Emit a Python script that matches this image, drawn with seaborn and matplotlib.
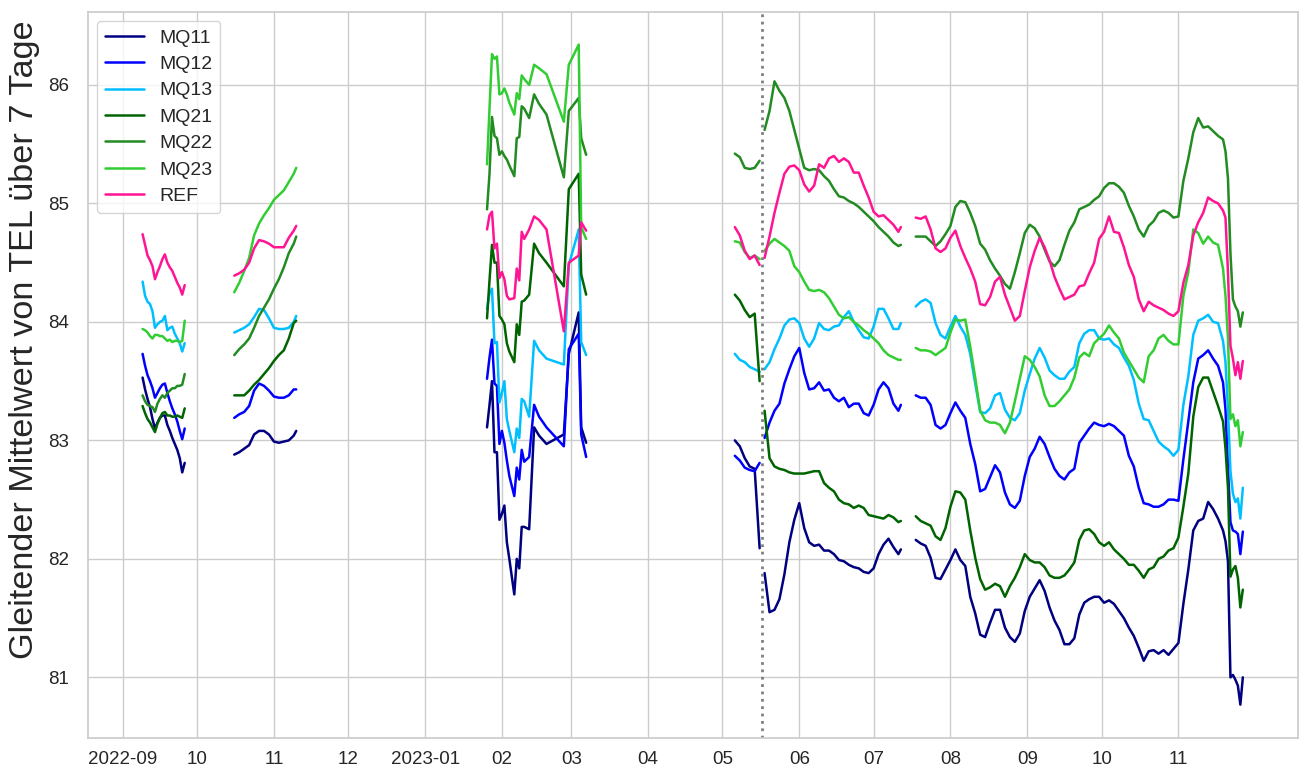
import numpy as np
import pandas as pd
import matplotlib
matplotlib.use("Agg")
import matplotlib.pyplot as plt
import seaborn as sns

# ============================================
# DATA (7-day rolling mean of TEL per sensor)
# ============================================

dates_sep22 = pd.date_range("2022-09-09", "2022-09-26", freq="D")
dates_oct22 = pd.date_range("2022-10-16", "2022-11-09", freq="2D").append(
    pd.DatetimeIndex(["2022-11-10"]))
dates_feb23 = pd.to_datetime([
    "2023-01-26", "2023-01-27", "2023-01-28", "2023-01-29", "2023-01-30",
    "2023-01-31", "2023-02-01", "2023-02-02", "2023-02-03", "2023-02-04",
    "2023-02-06", "2023-02-07", "2023-02-08", "2023-02-09", "2023-02-10",
    "2023-02-12", "2023-02-14", "2023-02-16", "2023-02-19", "2023-02-26",
    "2023-02-28", "2023-03-04", "2023-03-05", "2023-03-07"])
dates_may23 = pd.date_range("2023-05-06", "2023-05-16", freq="2D")
dates_jun23 = pd.date_range("2023-05-18", "2023-07-11", freq="2D").append(
    pd.DatetimeIndex(["2023-07-12"]))
dates_sep23 = pd.date_range("2023-07-18", "2023-11-19", freq="2D").append(
    pd.date_range("2023-11-20", "2023-11-27", freq="D"))

marker_date = "2023-05-17"

series_names = ["MQ11", "MQ12", "MQ13", "MQ21", "MQ22", "MQ23", "REF"]
series_colors = ["navy", "blue", "deepskyblue", "darkgreen",
                 "forestgreen", "limegreen", "deeppink"]

tick_dates = pd.date_range("2022-09-01", "2023-11-01", freq="MS")
tick_labels = ["2022-09", "10", "11", "12", "2023-01", "02", "03", "04",
               "05", "06", "07", "08", "09", "10", "11"]

mq11 = [
    # Sep 2022
    83.53, 83.43, 83.35, 83.28, 83.18, 83.10, 83.15, 83.19, 83.21, 83.21,
    83.13, 83.08, 83.02, 82.97, 82.92, 82.85, 82.73, 82.81,
    # Oct/Nov 2022
    82.88, 82.90, 82.93, 82.96, 83.05, 83.08, 83.08, 83.05, 82.99, 82.98,
    82.99, 83.00, 83.04, 83.08,
    # Jan-Mar 2023
    83.11, 83.30, 83.50, 82.90, 82.90, 82.33, 82.38, 82.45, 82.14, 82.00,
    81.70, 82.00, 81.92, 82.27, 82.27, 82.25, 83.11, 83.04, 82.97, 83.05,
    83.73, 84.08, 83.11, 82.98,
    # May 2023 (before marker)
    83.00, 82.95, 82.85, 82.78, 82.76, 82.09,
    # May-Jul 2023
    81.88, 81.55, 81.57, 81.66, 81.87, 82.14, 82.33, 82.47, 82.26, 82.14,
    82.11, 82.12, 82.07, 82.07, 82.04, 81.99, 81.98, 81.95, 81.93, 81.92,
    81.89, 81.88, 81.92, 82.04, 82.12, 82.17, 82.10, 82.04, 82.08,
    # Jul-Nov 2023
    82.16, 82.13, 82.11, 82.01, 81.84, 81.83, 81.91,
    81.99, 82.08, 81.99, 81.94, 81.68, 81.54, 81.36, 81.34, 81.46, 81.57,
    81.57, 81.42, 81.34, 81.30, 81.37, 81.56,
    81.68, 81.75, 81.82, 81.73, 81.59, 81.48, 81.40, 81.28, 81.28, 81.33,
    81.53, 81.63, 81.66, 81.68, 81.68,
    81.63, 81.65, 81.62, 81.56, 81.50, 81.42, 81.35, 81.25, 81.14, 81.22,
    81.23, 81.20, 81.23, 81.19, 81.24,
    81.29, 81.62, 81.91, 82.24, 82.32, 82.34, 82.48, 82.42, 82.34, 82.24,
    82.15, 81.98, 81.00, 81.02, 80.98, 80.93, 80.77, 81.00,
]

mq12 = [
    83.73, 83.63, 83.55, 83.50, 83.44, 83.36, 83.40, 83.44, 83.47, 83.48,
    83.40, 83.33, 83.27, 83.22, 83.16, 83.08, 83.01, 83.10,
    83.19, 83.22, 83.24, 83.29, 83.42, 83.48, 83.46, 83.42, 83.37, 83.36,
    83.36, 83.38, 83.43, 83.43,
    83.52, 83.70, 83.85, 83.48, 83.46, 82.97, 83.08, 82.98, 82.83, 82.70,
    82.53, 82.77, 82.67, 82.92, 82.82, 82.86, 83.30, 83.20, 83.11, 82.95,
    83.77, 83.90, 83.05, 82.86,
    82.87, 82.83, 82.77, 82.75, 82.74, 82.81,
    83.02, 83.15, 83.25, 83.31, 83.48, 83.60, 83.71, 83.78, 83.57, 83.43,
    83.44, 83.49, 83.42, 83.43, 83.36, 83.33, 83.36, 83.28, 83.31, 83.31,
    83.23, 83.21, 83.30, 83.43, 83.49, 83.44, 83.31, 83.25, 83.30,
    83.38, 83.36, 83.36, 83.30, 83.13, 83.10, 83.13,
    83.23, 83.32, 83.25, 83.19, 82.97, 82.80, 82.57, 82.59, 82.69, 82.79,
    82.73, 82.56, 82.46, 82.43, 82.49, 82.70,
    82.86, 82.93, 83.03, 82.97, 82.86, 82.76, 82.70, 82.67, 82.73, 82.76,
    82.98, 83.04, 83.10, 83.15, 83.13,
    83.12, 83.14, 83.12, 83.08, 83.04, 82.87, 82.78, 82.60, 82.47, 82.46,
    82.44, 82.44, 82.46, 82.50, 82.50,
    82.49, 82.84, 83.16, 83.49, 83.69, 83.72, 83.76, 83.69, 83.63, 83.49,
    83.26, 82.77, 82.31, 82.24, 82.23, 82.21, 82.04, 82.23,
]

mq13 = [
    84.34, 84.22, 84.17, 84.15, 84.09, 83.95, 83.98, 84.00, 84.01, 84.05,
    83.93, 83.95, 83.96, 83.90, 83.86, 83.82, 83.75, 83.82,
    83.91, 83.93, 83.95, 83.98, 84.04, 84.11, 84.10, 84.03, 83.95, 83.94,
    83.94, 83.95, 84.00, 84.05,
    84.11, 84.24, 84.28, 83.82, 83.83, 83.32, 83.40, 83.50, 83.18, 83.08,
    82.90, 83.10, 83.02, 83.35, 83.33, 83.20, 83.84, 83.76, 83.69, 83.64,
    84.48, 84.78, 83.83, 83.72,
    83.73, 83.68, 83.66, 83.62, 83.60, 83.58,
    83.60, 83.66, 83.77, 83.86, 83.97, 84.02, 84.03, 83.99, 83.86, 83.79,
    83.86, 83.99, 83.94, 83.93, 83.96, 83.97, 84.04, 84.09, 84.00, 83.93,
    83.87, 83.86, 83.96, 84.11, 84.11, 84.03, 83.94, 83.94, 83.99,
    84.13, 84.17, 84.19, 84.16, 83.99, 83.89, 83.86,
    83.96, 84.05, 83.96, 83.89, 83.73, 83.48, 83.24, 83.23, 83.27, 83.38,
    83.40, 83.26, 83.19, 83.17, 83.23, 83.42,
    83.56, 83.69, 83.78, 83.70, 83.59, 83.55, 83.52, 83.52, 83.58, 83.62,
    83.82, 83.90, 83.93, 83.93, 83.86,
    83.85, 83.86, 83.81, 83.78, 83.70, 83.63, 83.51, 83.31, 83.18, 83.17,
    83.08, 82.99, 82.95, 82.92, 82.87,
    82.92, 83.30, 83.54, 83.89, 84.01, 84.03, 84.06, 84.00, 83.99, 83.84,
    83.66, 83.26, 82.74, 82.55, 82.48, 82.51, 82.34, 82.60,
]

mq21 = [
    83.29, 83.23, 83.18, 83.15, 83.11, 83.07, 83.14, 83.19, 83.23, 83.24,
    83.21, 83.21, 83.20, 83.20, 83.21, 83.20, 83.19, 83.27,
    83.38, 83.38, 83.38, 83.42, 83.47, 83.51, 83.56, 83.61, 83.67, 83.72,
    83.76, 83.86, 83.99, 84.01,
    84.03, 84.35, 84.65, 84.50, 84.50, 84.05, 84.02, 83.98, 83.82, 83.75,
    83.66, 83.98, 83.89, 84.17, 84.18, 84.23, 84.66, 84.58, 84.50, 84.30,
    85.12, 85.25, 84.40, 84.23,
    84.23, 84.18, 84.10, 84.04, 84.07, 83.50,
    83.25, 82.85, 82.78, 82.76, 82.75, 82.73, 82.72, 82.72, 82.72, 82.73,
    82.74, 82.74, 82.64, 82.60, 82.57, 82.50, 82.47, 82.46, 82.43, 82.45,
    82.43, 82.37, 82.36, 82.35, 82.34, 82.37, 82.35, 82.31, 82.32,
    82.36, 82.32, 82.30, 82.28, 82.19, 82.16, 82.26,
    82.44, 82.57, 82.56, 82.50, 82.24, 82.01, 81.83, 81.74, 81.76, 81.79,
    81.77, 81.68, 81.77, 81.84, 81.93, 82.04,
    81.99, 81.97, 81.97, 81.93, 81.86, 81.84, 81.84, 81.86, 81.91, 81.97,
    82.16, 82.24, 82.25, 82.21, 82.14,
    82.11, 82.14, 82.08, 82.04, 82.00, 81.95, 81.95, 81.90, 81.84, 81.91,
    81.93, 82.00, 82.02, 82.07, 82.09,
    82.18, 82.44, 82.72, 83.20, 83.45, 83.53, 83.53, 83.41, 83.29, 83.16,
    82.93, 82.60, 81.85, 81.91, 81.94, 81.84, 81.59, 81.74,
]

mq22 = [
    83.38, 83.33, 83.30, 83.29, 83.28, 83.24, 83.31, 83.35, 83.38, 83.36,
    83.40, 83.42, 83.44, 83.44, 83.46, 83.46, 83.47, 83.56,
    83.72, 83.77, 83.81, 83.86, 83.95, 84.05, 84.12, 84.19, 84.28, 84.36,
    84.46, 84.58, 84.66, 84.72,
    84.95, 85.25, 85.73, 85.57, 85.55, 85.41, 85.44, 85.40, 85.37, 85.32,
    85.23, 85.55, 85.56, 85.82, 85.80, 85.72, 85.92, 85.84, 85.75, 85.22,
    85.78, 85.89, 85.55, 85.41,
    85.42, 85.39, 85.30, 85.29, 85.30, 85.36,
    85.62, 85.78, 86.03, 85.95, 85.89, 85.78, 85.62, 85.46, 85.30, 85.28,
    85.29, 85.28, 85.23, 85.19, 85.12, 85.06, 85.05, 85.02, 85.00, 84.97,
    84.93, 84.89, 84.85, 84.80, 84.76, 84.72, 84.67, 84.64, 84.65,
    84.72, 84.72, 84.72, 84.68, 84.64, 84.68, 84.74,
    84.81, 84.97, 85.02, 85.01, 84.92, 84.81, 84.66, 84.61, 84.52, 84.45,
    84.39, 84.32, 84.28, 84.42, 84.58, 84.75,
    84.82, 84.79, 84.72, 84.61, 84.51, 84.47, 84.52, 84.65, 84.77, 84.84,
    84.95, 84.97, 84.99, 85.03, 85.06,
    85.13, 85.17, 85.17, 85.14, 85.09, 84.98, 84.89, 84.78, 84.72, 84.81,
    84.85, 84.92, 84.94, 84.92, 84.88,
    84.89, 85.19, 85.38, 85.60, 85.72, 85.64, 85.65, 85.61, 85.57, 85.54,
    85.44, 85.21, 84.58, 84.19, 84.13, 84.09, 83.96, 84.08,
]

mq23 = [
    83.94, 83.93, 83.91, 83.88, 83.86, 83.89, 83.89, 83.88, 83.88, 83.86,
    83.84, 83.85, 83.83, 83.84, 83.84, 83.83, 83.84, 84.01,
    84.25, 84.33, 84.43, 84.54, 84.73, 84.83, 84.90, 84.96, 85.03, 85.07,
    85.11, 85.18, 85.25, 85.30,
    85.33, 85.80, 86.26, 86.22, 86.24, 85.92, 85.93, 85.97, 85.92, 85.85,
    85.75, 85.93, 85.88, 86.08, 86.05, 86.00, 86.17, 86.14, 86.09, 85.69,
    86.17, 86.34, 84.80, 84.70,
    84.68, 84.67, 84.59, 84.54, 84.56, 84.53,
    84.60, 84.66, 84.70, 84.67, 84.64, 84.60, 84.47, 84.42, 84.34, 84.27,
    84.26, 84.27, 84.25, 84.20, 84.13, 84.06, 84.03, 84.04, 84.00, 83.97,
    83.93, 83.90, 83.86, 83.82, 83.76, 83.72, 83.70, 83.68, 83.68,
    83.78, 83.76, 83.76, 83.75, 83.72, 83.75, 83.78,
    83.91, 84.02, 84.01, 84.02, 83.79, 83.53, 83.25, 83.17, 83.15, 83.15,
    83.13, 83.06, 83.15, 83.33, 83.52, 83.71,
    83.68, 83.62, 83.54, 83.38, 83.29, 83.29, 83.33, 83.38, 83.43, 83.53,
    83.70, 83.74, 83.71, 83.82, 83.86,
    83.90, 83.97, 83.91, 83.86, 83.74, 83.67, 83.60, 83.53, 83.49, 83.71,
    83.76, 83.86, 83.89, 83.84, 83.81,
    83.81, 84.22, 84.42, 84.78, 84.75, 84.66, 84.72, 84.67, 84.65, 84.45,
    84.22, 83.86, 83.18, 83.22, 83.12, 83.17, 82.95, 83.07,
]

ref = [
    84.74, 84.65, 84.56, 84.52, 84.47, 84.36, 84.42, 84.47, 84.53, 84.57,
    84.50, 84.46, 84.43, 84.38, 84.33, 84.29, 84.23, 84.31,
    84.39, 84.41, 84.44, 84.50, 84.62, 84.69, 84.68, 84.66, 84.63, 84.63,
    84.63, 84.71, 84.77, 84.81,
    84.78, 84.90, 84.93, 84.62, 84.66, 84.37, 84.42, 84.36, 84.22, 84.19,
    84.20, 84.45, 84.35, 84.76, 84.70, 84.78, 84.89, 84.86, 84.78, 83.92,
    84.50, 84.56, 84.84, 84.77,
    84.80, 84.73, 84.60, 84.53, 84.56, 84.48,
    84.54, 84.72, 84.92, 85.09, 85.25, 85.31, 85.32, 85.28, 85.16, 85.10,
    85.15, 85.33, 85.30, 85.38, 85.40, 85.35, 85.38, 85.35, 85.26, 85.26,
    85.15, 85.05, 84.93, 84.89, 84.90, 84.86, 84.82, 84.76, 84.80,
    84.88, 84.87, 84.89, 84.78, 84.62, 84.59, 84.62,
    84.71, 84.77, 84.64, 84.54, 84.45, 84.34, 84.15, 84.14, 84.21, 84.34,
    84.38, 84.23, 84.12, 84.01, 84.05, 84.26,
    84.46, 84.60, 84.71, 84.63, 84.52, 84.38, 84.28, 84.19, 84.21, 84.23,
    84.30, 84.31, 84.41, 84.50, 84.70,
    84.76, 84.89, 84.76, 84.75, 84.63, 84.48, 84.38, 84.19, 84.09, 84.17,
    84.14, 84.12, 84.10, 84.07, 84.05,
    84.09, 84.33, 84.48, 84.73, 84.84, 84.92, 85.05, 85.02, 85.00, 84.94,
    84.88, 84.42, 83.80, 83.69, 83.55, 83.66, 83.52, 83.67,
]

# ============================================
# LONG FORMAT
# ============================================

segments = [dates_sep22, dates_oct22, dates_feb23,
            dates_may23, dates_jun23, dates_sep23]
all_dates = np.concatenate([np.asarray(d) for d in segments])
seg_id = np.concatenate([[i] * len(d) for i, d in enumerate(segments)])

values = [mq11, mq12, mq13, mq21, mq22, mq23, ref]
frames = []
for name, vals in zip(series_names, values):
    frames.append(pd.DataFrame({
        "date": all_dates,
        "value": vals,
        "series": name,
        "segment": seg_id,
    }))
df = pd.concat(frames, ignore_index=True)

# ============================================
# PLOT
# ============================================

sns.set_theme(style="whitegrid")
plt.rcParams["font.family"] = ["Liberation Sans", "DejaVu Sans"]

fig, ax = plt.subplots(figsize=(13.07, 7.74), dpi=100)

sns.lineplot(data=df, x="date", y="value", hue="series", units="segment",
             estimator=None, hue_order=series_names,
             palette=dict(zip(series_names, series_colors)),
             linewidth=1.8, ax=ax)

ax.axvline(pd.Timestamp(marker_date), color="grey", linestyle=":", linewidth=2)

ax.set_xticks(tick_dates)
ax.set_xticklabels(tick_labels)
ax.tick_params(labelsize=13.5)
ax.tick_params(axis="y", length=0, pad=13.5)
ax.set_xlabel("")
ax.set_ylabel("Gleitender Mittelwert von TEL über 7 Tage", fontsize=24.7)
ax.yaxis.set_label_coords(-0.039, 0.548)

handles, labels = ax.get_legend_handles_labels()
ax.legend(handles, labels, loc="upper left", fontsize=14, labelspacing=0.45)

fig.subplots_adjust(left=0.067, right=0.993, top=0.985, bottom=0.047)
fig.savefig("out.png", dpi=100)
